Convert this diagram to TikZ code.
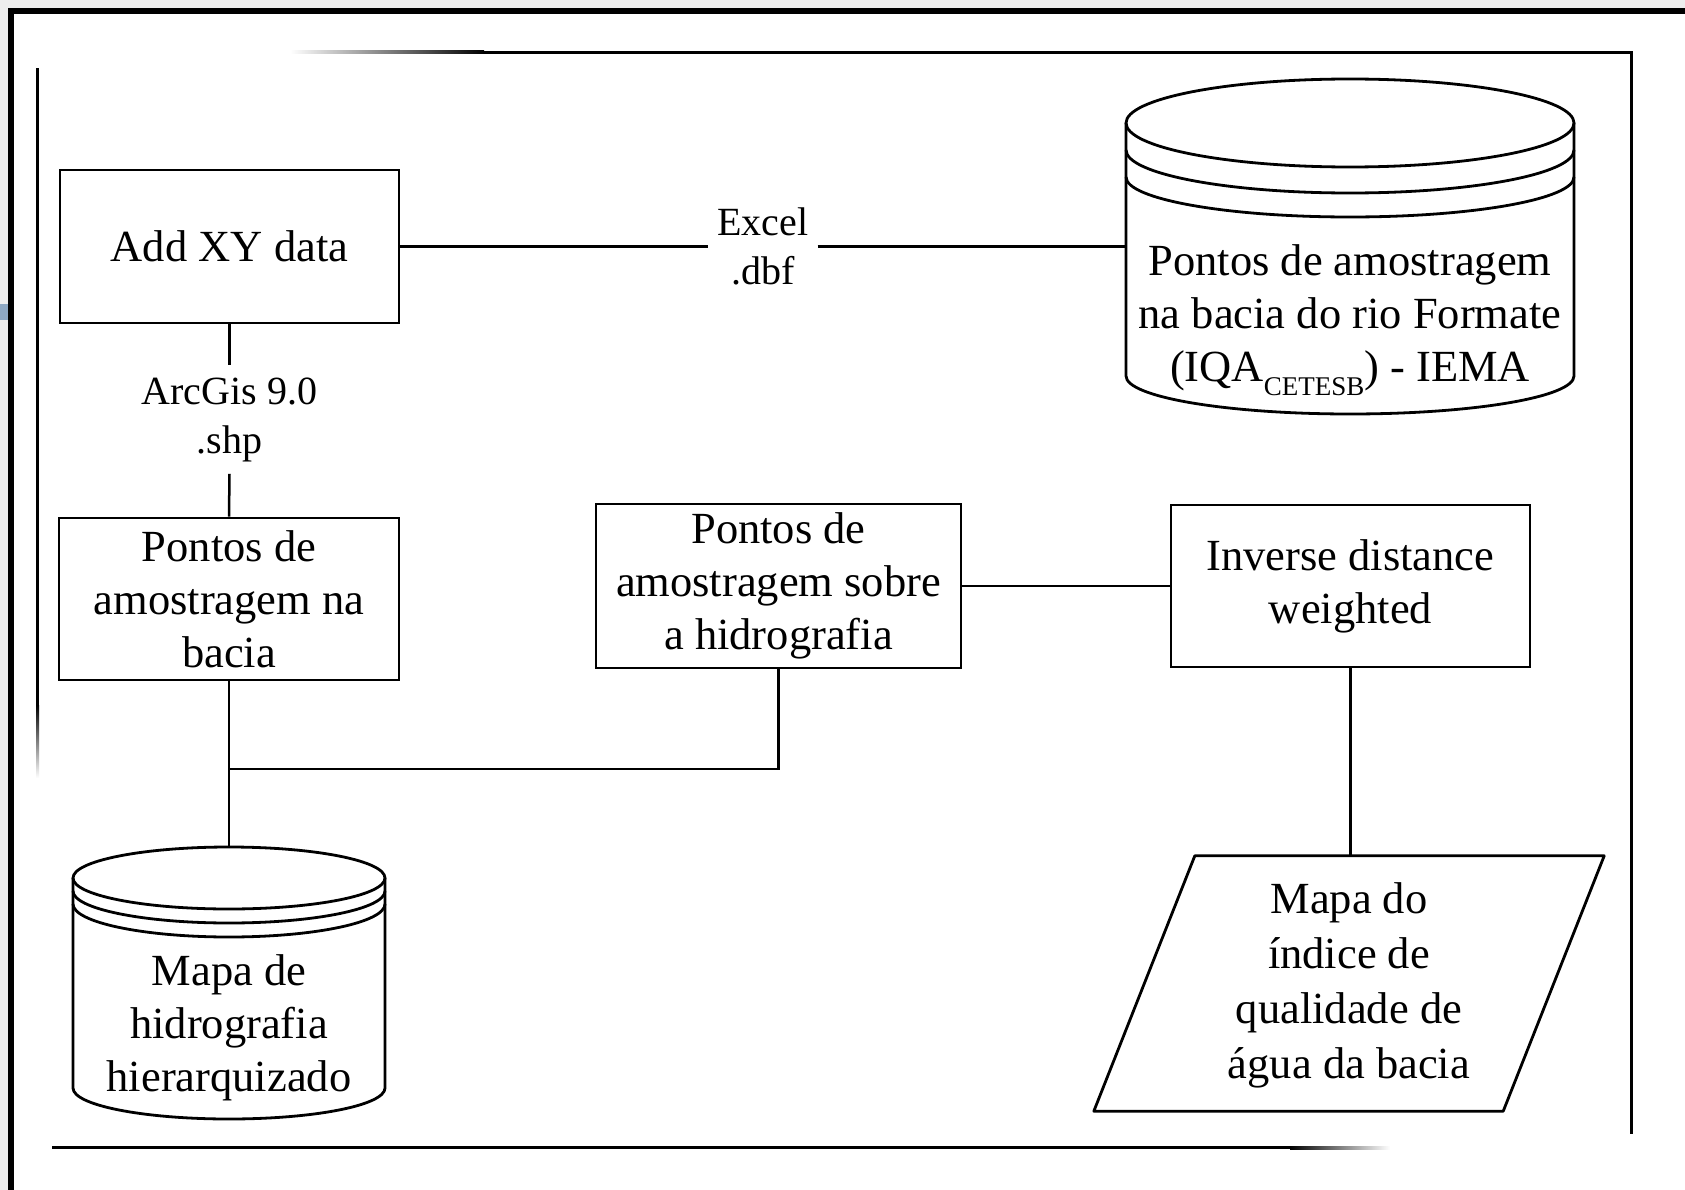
\documentclass[tikz,border=0pt]{standalone}
\usepackage{fontspec}
\setmainfont{Liberation Serif}
\usetikzlibrary{calc}
\definecolor{framegray}{HTML}{EEEEEE}
\definecolor{patchblue}{HTML}{8EA8C3}
\newcommand\mynodefont{\fontsize{44.5}{53}\selectfont}
\newcommand\mylabelfont{\fontsize{40}{49}\selectfont}
\newcommand\mysubfont{\fontsize{27}{27}\selectfont}
\begin{document}
\begin{tikzpicture}[x=1pt,y=-1pt,
  box/.style={draw, line width=2.8pt, inner sep=0pt, align=center, font=\mynodefont},
  txt/.style={inner sep=0pt, align=center, font=\mynodefont},
  lbl/.style={inner xsep=9pt, inner ysep=12pt, align=center, font=\mylabelfont},
  shapebox/.style={draw=none, inner sep=0pt},
  conn/.style={line width=2.5pt},
  outline/.style={line width=2.8pt, line join=round}
]
\useasboundingbox (0,0) rectangle (1685,1190);
\fill[white] (0,0) rectangle (1685,1190);
% outer frame
\fill[framegray] (0,0) rectangle (1685,8);
\fill[framegray] (0,0) rectangle (8,1190);
\fill[patchblue] (0,304) rectangle (8,320);
\fill[black] (8,8) rectangle (1685,14);
\fill[black] (8,8) rectangle (14,1190);
% inner frame
\fill[black] (484,51) rectangle (1633,54);
\shade[left color=white, right color=black] (290,51) rectangle (484,54);
\fill[black] (1630,51) rectangle (1633,1134);
\fill[black] (36,68) rectangle (39,705);
\shade[top color=black, bottom color=white] (36,705) rectangle (39,778);
\fill[black] (52,1146) rectangle (1290,1149);
\shade[left color=black, right color=white] (1290,1146) rectangle (1390,1149);

% boxes
\node[box, minimum width=339pt, minimum height=153pt] (addxy) at (229.5,246.5) {Add XY data};
\node[box, minimum width=340pt, minimum height=162pt] (bacia) at (229,599) {Pontos de\\amostragem na\\bacia};
\node[box, minimum width=365pt, minimum height=164pt] (sobre) at (778.5,586) {Pontos de\\amostragem sobre\\a hidrografia};
\node[box, minimum width=359pt, minimum height=162pt] (idw) at (1350.5,586) {Inverse distance\\weighted};

% labels
\node[lbl] (excel) at (763,246.5) {Excel\\.dbf};
\node[lbl] (arcgis) at (229.5,419.5) {ArcGis 9.0\\.shp};

% database A
\node[shapebox, minimum width=448pt, minimum height=335pt] (dbA) at (1350,246.5) {};
\draw[outline] (1350,123) ellipse[x radius=224, y radius=44];
\draw[outline] (1126,150) arc[start angle=180, end angle=0, x radius=224, y radius=43];
\draw[outline] (1126,177) arc[start angle=180, end angle=0, x radius=224, y radius=40];
\draw[outline] (1126,123) -- (1126,376) arc[start angle=180, end angle=0, x radius=224, y radius=38] -- (1574,123);
\node[txt] (dbAtext) at (1350,320) {Pontos de amostragem\\na bacia do rio Formate\\(IQA\raisebox{-14pt}{\mysubfont CETESB}) - IEMA};

% database B
\node[shapebox, minimum width=312pt, minimum height=272pt] (dbB) at (229,983) {};
\draw[outline] (229,878) ellipse[x radius=156, y radius=31];
\draw[outline] (73,891) arc[start angle=180, end angle=0, x radius=156, y radius=32];
\draw[outline] (73,904) arc[start angle=180, end angle=0, x radius=156, y radius=33];
\draw[outline] (73,878) -- (73,1088) arc[start angle=180, end angle=0, x radius=156, y radius=31] -- (385,878);
\node[txt] (dbBtext) at (229,1028) {Mapa de\\hidrografia\\hierarquizado};

% output map (parallelogram)
\node[shapebox, minimum width=409pt, minimum height=255pt] (mapa) at (1349,983.5) {};
\draw[outline] ($(mapa.north west)+(50.5,0)$) -- ($(mapa.north east)+(50.5,0)$) -- ($(mapa.south east)+(-50.5,0)$) -- ($(mapa.south west)+(-50.5,0)$) -- cycle;
\node[txt, font=\fontsize{44.5}{55}\selectfont] (mapatext) at (1349,985) {Mapa do\\índice de\\qualidade de\\água da bacia};

% connectors
\draw[conn] (addxy.east) -- (excel.west);
\draw[conn] (excel.east) -- (dbA.west);
\draw[conn] (addxy.south) -- (arcgis.north);
\draw[conn] (arcgis.south) -- (bacia.north);
\draw[conn] (bacia.south) -- (dbB.north);
\coordinate (junction) at (229,769);
\draw[conn] (sobre.south) |- (junction);
\draw[conn] (sobre.east) -- (idw.west);
\draw[conn] (idw.south) -- (idw.south |- mapa.north);
\end{tikzpicture}
\end{document}
